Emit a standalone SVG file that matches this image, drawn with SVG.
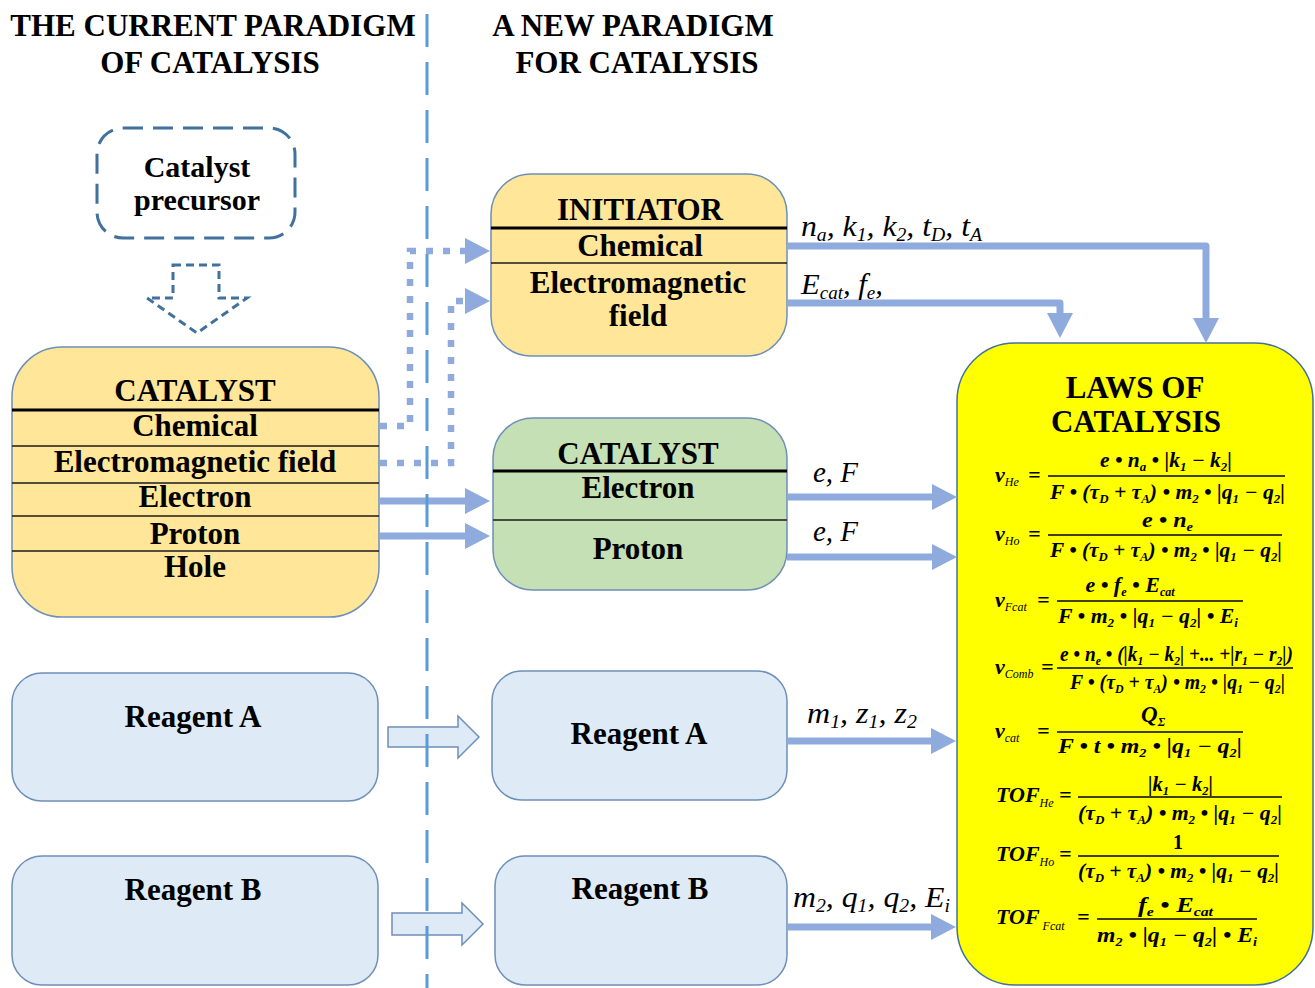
<svg xmlns="http://www.w3.org/2000/svg" width="1315" height="988" viewBox="0 0 1315 988">
<defs>
<style>
.box{stroke:#6d8fb8;stroke-width:1.5}
.t{font-family:"Liberation Serif","Times New Roman",serif;font-weight:bold;font-size:31px;text-anchor:middle;fill:#000}
.lbl{font-family:"Liberation Serif","Times New Roman",serif;font-style:italic;font-size:29px;fill:#000}
.lbl .sb{font-size:18px}
.f{font-family:"Liberation Serif","Times New Roman",serif;font-style:italic;font-weight:bold;font-size:20px;fill:#000}
.f .sb{font-size:12px}
.fl{font-family:"Liberation Serif","Times New Roman",serif;font-style:italic;font-weight:bold;font-size:22px;fill:#000}
.fl .sb{font-size:12px;font-weight:normal}
.bar{stroke:#000;stroke-width:1.5}
.thick{stroke:#000;stroke-width:3}
.thin{stroke:#1a1a1a;stroke-width:1.5}
.conn{fill:none;stroke:#8faadc;stroke-width:7;stroke-linejoin:round}
.dot{fill:none;stroke:#8faadc;stroke-width:6.5;stroke-dasharray:7 10}
.hollow{fill:#deebf7;stroke:#6d8fb8;stroke-width:1.5}
</style>
<marker id="ah" markerUnits="userSpaceOnUse" markerWidth="26" markerHeight="28" refX="0" refY="13" orient="auto">
<path d="M0,0 L25,13 L0,26 z" fill="#8faadc"/>
</marker>
</defs>
<rect width="1315" height="988" fill="#fff"/>

<g id="titles">
<text class="t" x="213" y="36">THE CURRENT PARADIGM</text>
<text class="t" x="210" y="73">OF CATALYSIS</text>
<text class="t" x="633" y="36">A NEW PARADIGM</text>
<text class="t" x="637" y="73">FOR CATALYSIS</text>
</g>

<g id="precursor">
<rect x="97" y="128" width="198" height="110" rx="26" fill="#fff" stroke="#41719c" stroke-width="3" stroke-dasharray="20 10"/>
<text class="t" x="197" y="177" style="font-size:30px">Catalyst</text>
<text class="t" x="197" y="210" style="font-size:30px">precursor</text>
</g>

<g id="precursor-arrow">
<polygon points="173,265 219,265 219,298 247,298 197,333 147,298 173,298" fill="#fff" stroke="#41719c" stroke-width="3" stroke-dasharray="8 5"/>
</g>

<g id="catalyst-left">
<rect class="box" x="12" y="347" width="367" height="270" rx="50" fill="#ffe699"/>
<text class="t" x="195" y="401">CATALYST</text>
<line class="thick" x1="12" y1="410" x2="379" y2="410"/>
<text class="t" x="195" y="436">Chemical</text>
<line class="thin" x1="12" y1="446" x2="379" y2="446"/>
<text class="t" x="195" y="472">Electromagnetic field</text>
<line class="thin" x1="12" y1="483" x2="379" y2="483"/>
<text class="t" x="195" y="507">Electron</text>
<line class="thin" x1="12" y1="516" x2="379" y2="516"/>
<text class="t" x="195" y="544">Proton</text>
<line class="thin" x1="12" y1="551" x2="379" y2="551"/>
<text class="t" x="195" y="577">Hole</text>
</g>

<g id="reagentA-left">
<rect class="box" x="12" y="673" width="366" height="128" rx="30" fill="#deebf7"/>
<text class="t" x="193" y="727">Reagent A</text>
</g>
<g id="reagentB-left">
<rect class="box" x="12" y="856" width="366" height="129" rx="30" fill="#deebf7"/>
<text class="t" x="193" y="900">Reagent B</text>
</g>

<g id="initiator">
<rect class="box" x="491" y="174" width="296" height="182" rx="40" fill="#ffe699"/>
<text class="t" x="640" y="220">INITIATOR</text>
<line class="thick" x1="491" y1="228" x2="787" y2="228"/>
<text class="t" x="640" y="256">Chemical</text>
<line class="thin" x1="491" y1="263" x2="787" y2="263"/>
<text class="t" x="638" y="293">Electromagnetic</text>
<text class="t" x="638" y="326">field</text>
</g>

<g id="catalyst-new">
<rect class="box" x="493" y="418" width="294" height="172" rx="40" fill="#c5e0b4"/>
<text class="t" x="638" y="464">CATALYST</text>
<line class="thick" x1="493" y1="471" x2="787" y2="471"/>
<text class="t" x="638" y="498">Electron</text>
<line class="thin" x1="493" y1="520" x2="787" y2="520"/>
<text class="t" x="638" y="559">Proton</text>
</g>

<g id="reagentA-new">
<rect class="box" x="492" y="671" width="295" height="129" rx="30" fill="#deebf7"/>
<text class="t" x="639" y="744">Reagent A</text>
</g>
<g id="reagentB-new">
<rect class="box" x="495" y="856" width="292" height="129" rx="30" fill="#deebf7"/>
<text class="t" x="640" y="899">Reagent B</text>
</g>

<g id="laws">
<rect x="957" y="343" width="356" height="642" rx="58" fill="#ffff00" stroke="#41719c" stroke-width="1.5"/>
<text class="t" x="1135" y="398">LAWS OF</text>
<text class="t" x="1136" y="432">CATALYSIS</text>

<!-- v_He -->
<text class="fl" x="995" y="482">v<tspan class="sb" dy="4">He</tspan></text>
<text class="fl" x="1028" y="482">=</text>
<line class="bar" x1="1048" y1="476" x2="1285" y2="476"/>
<text class="f" x="1100" y="467" textLength="132" lengthAdjust="spacingAndGlyphs">e • n<tspan class="sb" dy="4">a</tspan><tspan dy="-4"> • |k</tspan><tspan class="sb" dy="4">1</tspan><tspan dy="-4"> − k</tspan><tspan class="sb" dy="4">2</tspan><tspan dy="-4">|</tspan></text>
<text class="f" x="1050" y="499" textLength="235" lengthAdjust="spacingAndGlyphs">F • (τ<tspan class="sb" dy="4">D</tspan><tspan dy="-4"> + τ</tspan><tspan class="sb" dy="4">A</tspan><tspan dy="-4">) • m</tspan><tspan class="sb" dy="4">2</tspan><tspan dy="-4"> • |q</tspan><tspan class="sb" dy="4">1</tspan><tspan dy="-4"> − q</tspan><tspan class="sb" dy="4">2</tspan><tspan dy="-4">|</tspan></text>

<!-- v_Ho -->
<text class="fl" x="995" y="541">v<tspan class="sb" dy="4">Ho</tspan></text>
<text class="fl" x="1028" y="541">=</text>
<line class="bar" x1="1048" y1="535" x2="1282" y2="535"/>
<text class="f" x="1142" y="527" textLength="51" lengthAdjust="spacingAndGlyphs">e • n<tspan class="sb" dy="4">e</tspan></text>
<text class="f" x="1050" y="557" textLength="232" lengthAdjust="spacingAndGlyphs">F • (τ<tspan class="sb" dy="4">D</tspan><tspan dy="-4"> + τ</tspan><tspan class="sb" dy="4">A</tspan><tspan dy="-4">) • m</tspan><tspan class="sb" dy="4">2</tspan><tspan dy="-4"> • |q</tspan><tspan class="sb" dy="4">1</tspan><tspan dy="-4"> − q</tspan><tspan class="sb" dy="4">2</tspan><tspan dy="-4">|</tspan></text>

<!-- v_Fcat -->
<text class="fl" x="995" y="607">v<tspan class="sb" dy="4">Fcat</tspan></text>
<text class="fl" x="1037" y="607">=</text>
<line class="bar" x1="1057" y1="601" x2="1243" y2="601"/>
<text class="f" x="1130" y="592" style="text-anchor:middle;font-size:22px">e • f<tspan class="sb" dy="4">e</tspan><tspan dy="-4"> • E</tspan><tspan class="sb" dy="4">cat</tspan></text>
<text class="f" x="1058" y="623" textLength="180" lengthAdjust="spacingAndGlyphs">F • m<tspan class="sb" dy="4">2</tspan><tspan dy="-4"> • |q</tspan><tspan class="sb" dy="4">1</tspan><tspan dy="-4"> − q</tspan><tspan class="sb" dy="4">2</tspan><tspan dy="-4">| • E</tspan><tspan class="sb" dy="4">i</tspan></text>

<!-- v_Comb -->
<text class="fl" x="995" y="674">v<tspan class="sb" dy="4">Comb</tspan></text>
<text class="fl" x="1041" y="674">=</text>
<line class="bar" x1="1057" y1="668" x2="1293" y2="668"/>
<text class="f" x="1060" y="661" textLength="233" lengthAdjust="spacingAndGlyphs">e • n<tspan class="sb" dy="4">e</tspan><tspan dy="-4"> • (|k</tspan><tspan class="sb" dy="4">1</tspan><tspan dy="-4"> − k</tspan><tspan class="sb" dy="4">2</tspan><tspan dy="-4">| +... +|r</tspan><tspan class="sb" dy="4">1</tspan><tspan dy="-4"> − r</tspan><tspan class="sb" dy="4">2</tspan><tspan dy="-4">|)</tspan></text>
<text class="f" x="1070" y="689" textLength="215" lengthAdjust="spacingAndGlyphs">F • (τ<tspan class="sb" dy="4">D</tspan><tspan dy="-4"> + τ</tspan><tspan class="sb" dy="4">A</tspan><tspan dy="-4">) • m</tspan><tspan class="sb" dy="4">2</tspan><tspan dy="-4"> • |q</tspan><tspan class="sb" dy="4">1</tspan><tspan dy="-4"> − q</tspan><tspan class="sb" dy="4">2</tspan><tspan dy="-4">|</tspan></text>

<!-- v_cat -->
<text class="fl" x="995" y="738">v<tspan class="sb" dy="4">cat</tspan></text>
<text class="fl" x="1037" y="738">=</text>
<line class="bar" x1="1057" y1="732" x2="1243" y2="732"/>
<text class="f" x="1141" y="722" style="font-size:23px">Q<tspan class="sb" dy="4">Σ</tspan></text>
<text class="f" x="1058" y="753" textLength="184" lengthAdjust="spacingAndGlyphs">F • t • m<tspan class="sb" dy="4">2</tspan><tspan dy="-4"> • |q</tspan><tspan class="sb" dy="4">1</tspan><tspan dy="-4"> − q</tspan><tspan class="sb" dy="4">2</tspan><tspan dy="-4">|</tspan></text>

<!-- TOF_He -->
<text class="fl" x="996" y="802">TOF<tspan class="sb" dy="5">He</tspan></text>
<text class="fl" x="1059" y="802">=</text>
<line class="bar" x1="1078" y1="797" x2="1282" y2="797"/>
<text class="f" x="1148" y="791" textLength="65" lengthAdjust="spacingAndGlyphs">|k<tspan class="sb" dy="4">1</tspan><tspan dy="-4"> − k</tspan><tspan class="sb" dy="4">2</tspan><tspan dy="-4">|</tspan></text>
<text class="f" x="1078" y="820" textLength="204" lengthAdjust="spacingAndGlyphs">(τ<tspan class="sb" dy="4">D</tspan><tspan dy="-4"> + τ</tspan><tspan class="sb" dy="4">A</tspan><tspan dy="-4">) • m</tspan><tspan class="sb" dy="4">2</tspan><tspan dy="-4"> • |q</tspan><tspan class="sb" dy="4">1</tspan><tspan dy="-4"> − q</tspan><tspan class="sb" dy="4">2</tspan><tspan dy="-4">|</tspan></text>

<!-- TOF_Ho -->
<text class="fl" x="996" y="861">TOF<tspan class="sb" dy="5">Ho</tspan></text>
<text class="fl" x="1059" y="861">=</text>
<line class="bar" x1="1078" y1="856" x2="1279" y2="856"/>
<text class="f" x="1178" y="849" style="text-anchor:middle;font-style:normal">1</text>
<text class="f" x="1078" y="878" textLength="201" lengthAdjust="spacingAndGlyphs">(τ<tspan class="sb" dy="4">D</tspan><tspan dy="-4"> + τ</tspan><tspan class="sb" dy="4">A</tspan><tspan dy="-4">) • m</tspan><tspan class="sb" dy="4">2</tspan><tspan dy="-4"> • |q</tspan><tspan class="sb" dy="4">1</tspan><tspan dy="-4"> − q</tspan><tspan class="sb" dy="4">2</tspan><tspan dy="-4">|</tspan></text>

<!-- TOF_Fcat -->
<text class="fl" x="996" y="924">TOF<tspan class="sb" dy="6"> Fcat</tspan></text>
<text class="fl" x="1077" y="924">=</text>
<line class="bar" x1="1097" y1="919" x2="1257" y2="919"/>
<text class="f" x="1138" y="912" textLength="75" lengthAdjust="spacingAndGlyphs">f<tspan class="sb" dy="4">e</tspan><tspan dy="-4"> • E</tspan><tspan class="sb" dy="4">cat</tspan></text>
<text class="f" x="1097" y="942" textLength="160" lengthAdjust="spacingAndGlyphs">m<tspan class="sb" dy="4">2</tspan><tspan dy="-4"> • |q</tspan><tspan class="sb" dy="4">1</tspan><tspan dy="-4"> − q</tspan><tspan class="sb" dy="4">2</tspan><tspan dy="-4">| • E</tspan><tspan class="sb" dy="4">i</tspan></text>
</g>

<g id="connectors">
<polygon class="hollow" points="388,727 458,727 458,716 479,737 458,758 458,747 388,747"/>
<polygon class="hollow" points="392,913 462,913 462,903 483,924 462,945 462,935 392,935"/>
<path class="dot" d="M380,426 H410 V251 H465" marker-end="url(#ah)"/>
<path class="dot" d="M380,463 H451 V301 H465" marker-end="url(#ah)"/>
<path class="conn" d="M379,501 H465" marker-end="url(#ah)"/>
<path class="conn" d="M379,536 H465" marker-end="url(#ah)"/>
<path class="conn" d="M787,246 H1206 V318" marker-end="url(#ah)"/>
<path class="conn" d="M787,303 H1060 V313" marker-end="url(#ah)"/>
<path class="conn" d="M787,497 H932" marker-end="url(#ah)"/>
<path class="conn" d="M787,557 H932" marker-end="url(#ah)"/>
<path class="conn" d="M787,741 H931" marker-end="url(#ah)"/>
<path class="conn" d="M787,927 H931" marker-end="url(#ah)"/>
<line x1="427" y1="14" x2="427" y2="988" stroke="#5b9bd5" stroke-width="3" stroke-dasharray="33 15"/>
</g>

<g id="connector-labels">
<text class="lbl" x="801" y="236" textLength="181" lengthAdjust="spacingAndGlyphs">n<tspan class="sb" dy="5">a</tspan><tspan dy="-5">, k</tspan><tspan class="sb" dy="5">1</tspan><tspan dy="-5">, k</tspan><tspan class="sb" dy="5">2</tspan><tspan dy="-5">, t</tspan><tspan class="sb" dy="5">D</tspan><tspan dy="-5">, t</tspan><tspan class="sb" dy="5">A</tspan></text>
<text class="lbl" x="801" y="294" textLength="82" lengthAdjust="spacingAndGlyphs">E<tspan class="sb" dy="5">cat</tspan><tspan dy="-5">, f</tspan><tspan class="sb" dy="5">e</tspan><tspan dy="-5">,</tspan></text>
<text class="lbl" x="813" y="482">e, F</text>
<text class="lbl" x="813" y="541">e, F</text>
<text class="lbl" x="807" y="723" textLength="110" lengthAdjust="spacingAndGlyphs">m<tspan class="sb" dy="5">1</tspan><tspan dy="-5">, z</tspan><tspan class="sb" dy="5">1</tspan><tspan dy="-5">, z</tspan><tspan class="sb" dy="5">2</tspan></text>
<text class="lbl" x="793" y="907" textLength="157" lengthAdjust="spacingAndGlyphs">m<tspan class="sb" dy="5">2</tspan><tspan dy="-5">, q</tspan><tspan class="sb" dy="5">1</tspan><tspan dy="-5">, q</tspan><tspan class="sb" dy="5">2</tspan><tspan dy="-5">, E</tspan><tspan class="sb" dy="5">i</tspan></text>
</g>
</svg>
